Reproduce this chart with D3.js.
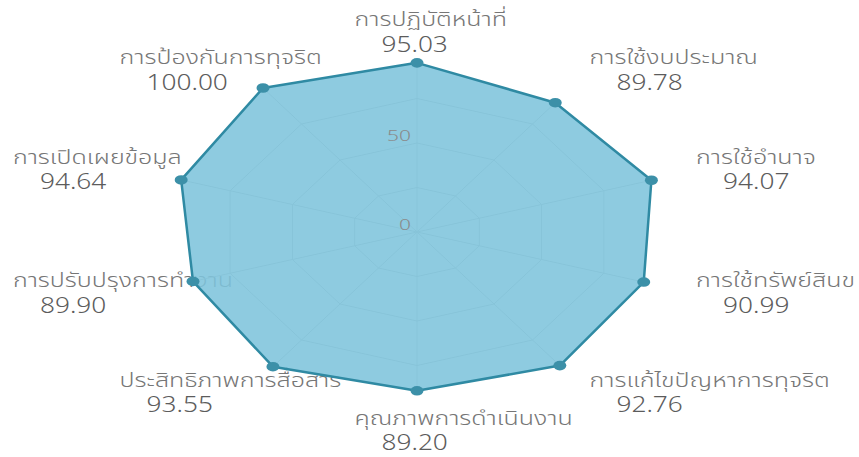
<!DOCTYPE html>
<html>
<head>
<meta charset="utf-8">
<script src="https://cdn.jsdelivr.net/npm/d3@7"></script>
<style>
  html, body { margin: 0; padding: 0; background: #fff; }
  svg { display: block; }
  text { font-family: "Noto Sans Thai", "Noto Sans Thai Looped", "Noto Sans", sans-serif; font-weight: 300; }
</style>
</head>
<body>
<div id="chart"></div>
<script>
// назви осей і значення (ITA score)
var categories = [
  "การปฏิบัติหน้าที่",
  "การใช้งบประมาณ",
  "การใช้อำนาจ",
  "การใช้ทรัพย์สินข",
  "การแก้ไขปัญหาการทุจริต",
  "คุณภาพการดำเนินงาน",
  "ประสิทธิภาพการสื่อสาร",
  "การปรับปรุงการทำงาน",
  "การเปิดเผยข้อมูล",
  "การป้องกันการทุจริต"
];
var values = [95.03, 89.78, 94.07, 90.99, 92.76, 89.20, 93.55, 89.90, 94.64, 100.00];
var valueLabels = ["95.03", "89.78", "94.07", "90.99", "92.76", "89.20", "93.55", "89.90", "94.64", "100.00"];
var tickValues = [0, 50];
var gridLevels = [25, 50, 75, 100];

var width = 859, height = 457;
var cx = 417, cy = 232;

// картинка розтягнута по горизонталі, тому два радіуси
var rx = d3.scaleLinear().domain([0, 100]).range([0, 262]);
var ry = d3.scaleLinear().domain([0, 100]).range([0, 178]);
var angle = d3.scaleLinear().domain([0, categories.length]).range([0, 2 * Math.PI]);

var textStretch = 1.25;

function px(i, v) { return cx + rx(v) * Math.sin(angle(i)); }
function py(i, v) { return cy - ry(v) * Math.cos(angle(i)); }

var svg = d3.select("#chart")
  .append("svg")
  .attr("width", width)
  .attr("height", height);

var line = d3.line()
  .x(function(d, i) { return px(i, d); })
  .y(function(d, i) { return py(i, d); })
  .curve(d3.curveLinearClosed);

svg.append("defs")
  .append("clipPath")
  .attr("id", "area-clip")
  .append("path")
  .attr("d", line(values));

// підписи осей (під полігоном)
var labels = svg.append("g").attr("class", "labels");

categories.forEach(function(name, i) {
  var s = Math.sin(angle(i));
  var k = s > 0.01 ? 0 : (s < -0.01 ? 1 : 0.5);
  var left = px(i, 112) - k * 125;
  var mid = py(i, 112);

  labels.append("text")
    .attr("transform", "translate(" + left + "," + (mid - 6.5) + ") scale(" + textStretch + ",1)")
    .attr("font-size", 20)
    .attr("fill", "#767676")
    .text(name);

  labels.append("text")
    .attr("transform", "translate(" + (left + 27) + "," + (mid + 19) + ") scale(" + textStretch + ",1)")
    .attr("font-size", 21)
    .attr("fill", "#5c5c5c")
    .text(valueLabels[i]);
});

// сітка, видима тільки всередині полігону
var grid = svg.append("g")
  .attr("clip-path", "url(#area-clip)");

grid.selectAll("path.ring")
  .data(gridLevels)
  .enter()
  .append("path")
  .attr("class", "ring")
  .attr("d", function(lv) { return line(categories.map(function() { return lv; })); })
  .attr("fill", "none")
  .attr("stroke", "#c2c2c2")
  .attr("stroke-width", 1);

grid.selectAll("line.spoke")
  .data(categories)
  .enter()
  .append("line")
  .attr("class", "spoke")
  .attr("x1", cx)
  .attr("y1", cy)
  .attr("x2", function(d, i) { return px(i, 100); })
  .attr("y2", function(d, i) { return py(i, 100); })
  .attr("stroke", "#c2c2c2")
  .attr("stroke-width", 1);

// сам полігон
svg.append("path")
  .attr("d", line(values))
  .attr("fill", "#7ec4dc")
  .attr("fill-opacity", 0.88)
  .attr("stroke", "#2f8aa3")
  .attr("stroke-width", 2.5)
  .attr("stroke-linejoin", "round");

svg.selectAll("ellipse.dot")
  .data(values)
  .enter()
  .append("ellipse")
  .attr("class", "dot")
  .attr("cx", function(d, i) { return px(i, d); })
  .attr("cy", function(d, i) { return py(i, d); })
  .attr("rx", 6.5)
  .attr("ry", 4.8)
  .attr("fill", "#3c90a8");

// підписи шкали
svg.selectAll("text.tick")
  .data(tickValues)
  .enter()
  .append("text")
  .attr("class", "tick")
  .attr("transform", function(d) { return "translate(" + (cx - 6) + "," + (cy - ry(d) - 2) + ") scale(1.4,1)"; })
  .attr("text-anchor", "end")
  .attr("font-size", 15)
  .attr("fill", "#8a8a8a")
  .text(function(d) { return d; });
</script>
</body>
</html>
